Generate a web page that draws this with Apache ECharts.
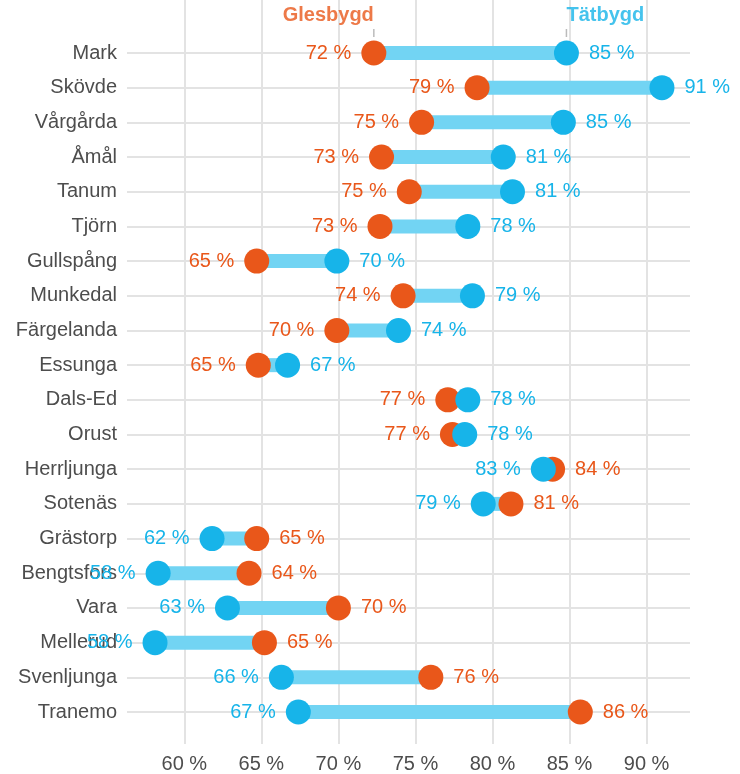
<!DOCTYPE html>
<html>
<head>
<meta charset="utf-8">
<script src="https://cdn.jsdelivr.net/npm/echarts@6/dist/echarts.min.js"></script>
<style>
  html, body { margin: 0; padding: 0; background: #fff; }
  #chart { width: 740px; height: 774px; }
</style>
</head>
<body>
<div id="chart"></div>
<script>
// kommuner, uppifrån och ned
const kommuner = ['Mark', 'Skövde', 'Vårgårda', 'Åmål', 'Tanum', 'Tjörn', 'Gullspång', 'Munkedal', 'Färgelanda', 'Essunga',
    'Dals-Ed', 'Orust', 'Herrljunga', 'Sotenäs', 'Grästorp', 'Bengtsfors', 'Vara', 'Mellerud', 'Svenljunga', 'Tranemo'];
// andel i procent
const glesbygd = [72.3, 79.0, 75.4, 72.8, 74.6, 72.7, 64.7, 74.2, 69.9, 64.8,
    77.1, 77.4, 83.9, 81.2, 64.7, 64.2, 70.0, 65.2, 76.0, 85.7];
const tatbygd = [84.8, 91.0, 84.6, 80.7, 81.3, 78.4, 69.9, 78.7, 73.9, 66.7,
    78.4, 78.2, 83.3, 79.4, 61.8, 58.3, 62.8, 58.1, 66.3, 67.4];
const serieNamn = ['Glesbygd', 'Tätbygd'];

const ORANGE = '#e9571a';
const BLUE = '#17b4e9';
const SEGMENT = '#72d4f3';
const GRID = '#e3e3e3';
const TEXT = '#4d4d4d';
const FONT = '"Liberation Sans", Arial, sans-serif';
const X_MIN = 56.28, X_MAX = 92.82;

const chart = echarts.init(document.getElementById('chart'));

function pointData(vals, others) {
    return vals.map((v, i) => ({
        value: [v, kommuner[i]],
        label: { position: v < others[i] ? 'left' : 'right' }
    }));
}

const pctLabel = color => ({
    show: true,
    distance: 10,
    color: color,
    fontSize: 20,
    fontFamily: FONT,
    formatter: p => Math.round(p.value[0]) + ' %'
});

chart.setOption({
    animation: false,
    textStyle: { fontFamily: FONT },
    grid: [
        { left: 127, right: 50, top: 53, bottom: 62 },   // data
        { left: 127, right: 50, top: 0, bottom: 27 }     // vertical grid + x labels
    ],
    xAxis: [
        { gridIndex: 0, type: 'value', min: X_MIN, max: X_MAX, show: false },
        {
            gridIndex: 1, type: 'value', min: X_MIN, max: X_MAX, splitNumber: 7,
            axisLine: { show: false },
            axisTick: { show: false },
            axisLabel: {
                color: TEXT, fontSize: 20, margin: 10, fontFamily: FONT,
                showMinLabel: false, showMaxLabel: false,
                formatter: '{value} %'
            },
            splitLine: { show: true, showMinLine: false, showMaxLine: false, lineStyle: { color: GRID, width: 2 } }
        }
    ],
    yAxis: [
        {
            gridIndex: 0, type: 'category', data: kommuner, inverse: true, boundaryGap: false,
            axisLine: { show: false },
            axisTick: { show: false },
            axisLabel: { color: TEXT, fontSize: 20, margin: 10, fontFamily: FONT, interval: 0 },
            splitLine: { show: true, interval: 0, lineStyle: { color: GRID, width: 2 } }
        },
        { gridIndex: 1, type: 'value', min: 0, max: 1, show: false }
    ],
    series: [
        {
            // linjen mellan punkterna
            type: 'custom',
            xAxisIndex: 0, yAxisIndex: 0,
            data: kommuner.map((k, i) => [glesbygd[i], tatbygd[i], i]),
            encode: { x: [0, 1], y: 2 },
            renderItem: (params, api) => {
                const a = api.coord([api.value(0), api.value(2)]);
                const b = api.coord([api.value(1), api.value(2)]);
                return {
                    type: 'line',
                    shape: { x1: a[0], y1: a[1], x2: b[0], y2: b[1] },
                    style: { stroke: SEGMENT, lineWidth: 14 }
                };
            },
            z: 2
        },
        {
            name: serieNamn[0],
            type: 'scatter',
            xAxisIndex: 0, yAxisIndex: 0,
            symbolSize: 25,
            itemStyle: { color: ORANGE, opacity: 1 },
            label: pctLabel(ORANGE),
            data: pointData(glesbygd, tatbygd),
            z: 3
        },
        {
            name: serieNamn[1],
            type: 'scatter',
            xAxisIndex: 0, yAxisIndex: 0,
            symbolSize: 25,
            itemStyle: { color: BLUE, opacity: 1 },
            label: pctLabel(BLUE),
            data: pointData(tatbygd, glesbygd),
            z: 4
        },
        {
            // rubriker ovanför första raden
            type: 'scatter',
            xAxisIndex: 0, yAxisIndex: 0,
            symbol: 'rect',
            symbolSize: [1.5, 8],
            symbolOffset: [0, -20],
            itemStyle: { color: '#aaaaaa' },
            silent: true,
            data: [
                { value: [glesbygd[0], kommuner[0]], label: { formatter: serieNamn[0], color: ORANGE, align: 'right' } },
                { value: [tatbygd[0], kommuner[0]], label: { formatter: serieNamn[1], color: BLUE, align: 'left' } }
            ],
            label: { show: true, position: 'top', distance: 4, fontSize: 20, fontWeight: 'bold', fontFamily: FONT },
            z: 5
        }
    ]
});
</script>
</body>
</html>
